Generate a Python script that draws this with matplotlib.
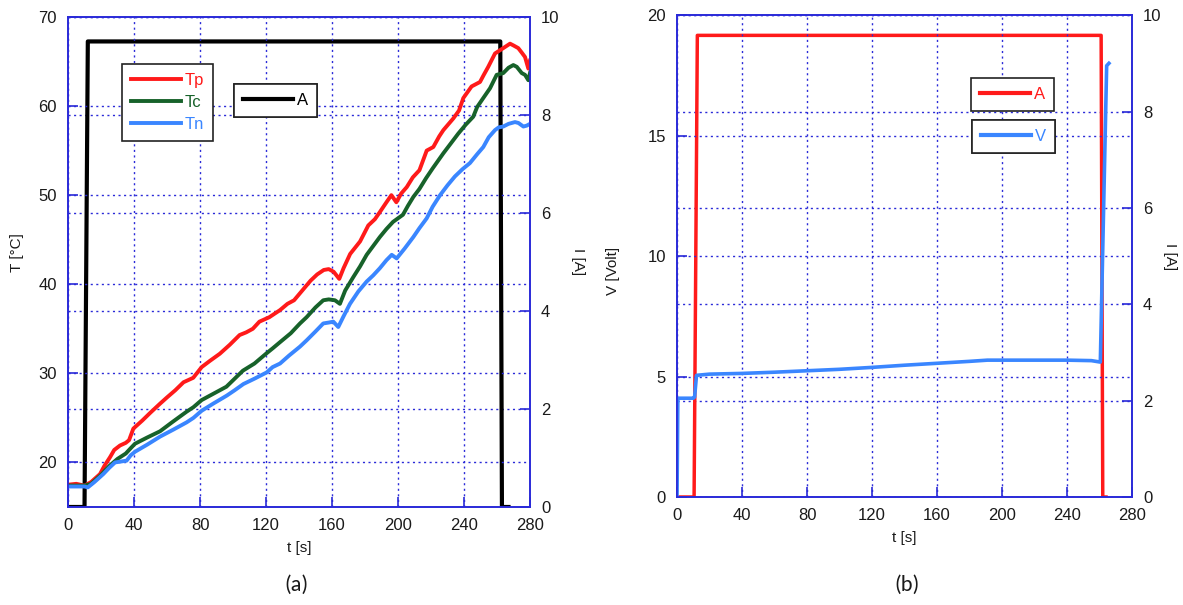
import matplotlib.pyplot as plt
from matplotlib.lines import Line2D

plt.rcParams['font.family'] = ['Liberation Sans', 'DejaVu Sans']

# ---- panel (a): temperatures [°C] and current [A] vs time [s]
tp_t = [0, 5, 10, 14, 19.4, 22, 25.5, 28, 31.5, 35, 37, 39.6, 45, 50, 55.8, 60, 65, 70, 75.9,
        81, 86, 92, 98, 104, 108, 112, 116, 122, 128.5, 133, 137, 142, 147, 151, 155, 158,
        161, 164.4, 167, 171, 177, 182, 186, 189, 193, 196, 199, 202, 205.3, 209, 213, 217.4,
        221.4, 225, 227.5, 233.5, 237, 239.6, 244.6, 249.7, 252, 254.7, 258.8, 263.8, 267.9,
        270, 272.9, 275, 277, 279, 280]
tp_v = [17.5, 17.6, 17.4, 17.8, 18.7, 19.6, 20.6, 21.4, 21.9, 22.2, 22.5, 23.8, 24.7, 25.6, 26.6,
        27.3, 28.1, 29.0, 29.5, 30.7, 31.4, 32.2, 33.2, 34.3, 34.6, 35.0, 35.8, 36.3, 37.1, 37.8,
        38.2, 39.3, 40.4, 41.1, 41.6, 41.7, 41.4, 40.6, 41.8, 43.4, 44.8, 46.6, 47.3, 48.1, 49.2,
        50.0, 49.2, 50.2, 50.9, 52.0, 52.8, 55.0, 55.4, 56.6, 57.3, 58.6, 59.5, 60.9, 62.2, 62.7,
        63.5, 64.4, 65.9, 66.5, 67.0, 66.8, 66.5, 66.0, 65.5, 64.2, 65.1]

tc_t = [0, 10, 14, 20, 25, 30, 35, 38, 40.6, 48, 55.8, 63, 71.9, 76, 81, 88, 96, 101, 106, 113,
        120, 124, 128.5, 135, 140.6, 144.6, 150, 154.7, 158, 161.8, 164.8, 168, 172.9, 177, 181,
        185, 189, 193, 197, 203, 206, 209.3, 213, 217, 221, 227.5, 232, 236.5, 241, 245.6, 248,
        251.7, 255.8, 259.8, 263.8, 267, 269.9, 272, 275, 277, 279, 280]
tc_v = [17.4, 17.4, 17.6, 18.6, 19.6, 20.4, 21.0, 21.6, 22.1, 22.8, 23.5, 24.5, 25.7, 26.2, 27.0,
        27.7, 28.5, 29.4, 30.3, 31.1, 32.2, 32.8, 33.5, 34.5, 35.6, 36.3, 37.4, 38.2, 38.3, 38.2,
        37.8, 39.3, 40.8, 42.0, 43.3, 44.3, 45.3, 46.2, 47.0, 47.8, 48.8, 49.8, 50.7, 51.9, 53.0,
        54.7, 55.8, 56.9, 57.9, 58.8, 59.9, 60.9, 62.0, 63.5, 63.7, 64.3, 64.6, 64.4, 63.7, 63.5,
        62.9, 63.7]

tn_t = [0, 10, 12, 16, 21.4, 25, 28.5, 32, 35.5, 38, 40.6, 48, 55.8, 64, 71.9, 76, 81, 88, 96.2,
        101, 106.3, 113, 120.4, 124, 128.5, 134, 140.6, 144.6, 150, 154.7, 158, 160.8, 163.8,
        167, 170.9, 176, 181, 185, 189, 193, 196.2, 199.2, 204, 209.3, 213, 217.4, 221, 225.5,
        230, 234.5, 239, 243.6, 248, 251.7, 255, 258.8, 261, 263.8, 267, 270.9, 273, 276, 278, 280]
tn_v = [17.3, 17.3, 17.2, 17.8, 18.7, 19.4, 20.0, 20.1, 20.2, 20.8, 21.2, 22.0, 22.9, 23.7, 24.5,
        25.0, 25.8, 26.6, 27.5, 28.1, 28.8, 29.4, 30.1, 30.7, 31.1, 32.0, 33.0, 33.7, 34.7, 35.6,
        35.7, 35.8, 35.2, 36.4, 37.8, 39.2, 40.3, 41.0, 41.8, 42.7, 43.3, 42.9, 44.0, 45.3, 46.3,
        47.4, 48.7, 50.0, 51.1, 52.1, 52.9, 53.6, 54.6, 55.4, 56.5, 57.3, 57.6, 57.7, 58.0, 58.2,
        58.1, 57.7, 57.8, 58.0]

ia_t = [0, 10, 12, 262, 263, 267]
ia_v = [0, 0, 9.5, 9.5, 0, 0]

# ---- panel (b): voltage [V] and current [A] vs time [s]
vb_t = [0, 0.5, 10, 10.8, 12, 20, 40, 60, 80, 100, 120, 140, 160, 180, 191, 200, 220, 240, 255,
        260.5, 264.4, 265.8]
vb_v = [0, 4.1, 4.1, 4.15, 5.05, 5.1, 5.13, 5.18, 5.24, 5.3, 5.38, 5.47, 5.55, 5.63, 5.68, 5.68,
        5.68, 5.68, 5.66, 5.6, 17.9, 18.0]

ib_t = [0, 10.5, 12.5, 261, 262, 264]
ib_v = [0, 0, 9.58, 9.58, 0, 0]

xticks = [0, 40, 80, 120, 160, 200, 240, 280]

RED = '#ff1a1a'
GREEN = '#17622a'
BLUE = '#3a86ff'
AXBLUE = '#2a2ad8'
TXT = '#1a1a1a'


def style_axes(ax, tw, ilabel_x):
    for a in (ax, tw):
        for s in a.spines.values():
            s.set_color(AXBLUE)
            s.set_linewidth(1.2)
        a.tick_params(direction='in', length=7, width=1.2, color=AXBLUE,
                      labelsize=12, labelcolor=TXT)
        a.grid(True, axis='y', color=AXBLUE, linestyle=(0, (1.5, 2.5)), linewidth=1.0)
    ax.grid(True, axis='x', color=AXBLUE, linestyle=(0, (1.5, 2.5)), linewidth=1.0)
    ax.tick_params(axis='x', pad=8)
    tw.tick_params(axis='y', pad=8)
    ax.tick_params(axis='y', pad=8)
    # draw left-axis curves above the right axis' grid
    ax.set_zorder(tw.get_zorder() + 1)
    ax.patch.set_visible(False)
    ax.set_xlim(0, 280)
    ax.set_xticks(xticks)
    tw.set_ylim(0, 10)
    tw.set_yticks([0, 2, 4, 6, 8, 10])
    ax.set_xlabel('t [s]', fontsize=11, color=TXT, labelpad=6)
    tw.set_ylabel('I [A]', fontsize=11, color=TXT, rotation=270, va='center')
    tw.yaxis.set_label_coords(ilabel_x, 0.5)


def box_legend(ax, handles, labels, anchor, fig):
    leg = ax.legend(handles, labels, loc='upper left', bbox_to_anchor=anchor,
                    bbox_transform=fig.transFigure, fancybox=False, framealpha=1,
                    edgecolor='#222222', fontsize=12, handlelength=3.0, handletextpad=0.2,
                    labelspacing=0.4, borderpad=0.55, borderaxespad=0,
                    labelcolor='linecolor')
    leg.get_frame().set_linewidth(1.2)
    ax.add_artist(leg)
    return leg


fig = plt.figure(figsize=(11.83, 6.05), dpi=100)

# panel (a)
ax1 = fig.add_axes([0.0575, 0.162, 0.3905, 0.810])
tw1 = ax1.twinx()
style_axes(ax1, tw1, 1.104)
ax1.set_ylim(15, 70)
ax1.set_yticks([20, 30, 40, 50, 60, 70])
ax1.set_ylabel('T [°C]', fontsize=11, color=TXT, labelpad=4)
ax1.yaxis.set_label_coords(-0.095, 0.52)

la, = tw1.plot(ia_t, ia_v, color='black', lw=3)
lp, = ax1.plot(tp_t, tp_v, color=RED, lw=2.8)
lc, = ax1.plot(tc_t, tc_v, color=GREEN, lw=2.8)
ln, = ax1.plot(tn_t, tn_v, color=BLUE, lw=2.8)

box_legend(ax1, [lp, lc, ln], ['Tp', 'Tc', 'Tn'], (0.1031, 0.894), fig)
box_legend(ax1, [Line2D([], [], color='black', lw=3)], ['A'], (0.1978, 0.861), fig)

# panel (b)
ax2 = fig.add_axes([0.5723, 0.1785, 0.3846, 0.7965])
tw2 = ax2.twinx()
style_axes(ax2, tw2, 1.083)
ax2.set_ylim(0, 20)
ax2.set_yticks([0, 5, 10, 15, 20])
ax2.set_ylabel('V [Volt]', fontsize=11, color=TXT, labelpad=4)
ax2.yaxis.set_label_coords(-0.125, 0.47)

lb, = tw2.plot(ib_t, ib_v, color=RED, lw=2.5)
lv, = ax2.plot(vb_t, vb_v, color=BLUE, lw=2.6)

box_legend(ax2, [Line2D([], [], color=RED, lw=3)], ['A'], (0.8208, 0.871), fig)
box_legend(ax2, [Line2D([], [], color=BLUE, lw=3)], ['V'], (0.8217, 0.8017), fig)

fig.text(0.251, 0.033, '(a)', fontsize=16, color=TXT, ha='center', va='center',
         family=['Carlito', 'Open Sans', 'DejaVu Sans'])
fig.text(0.767, 0.033, '(b)', fontsize=16, color=TXT, ha='center', va='center',
         family=['Carlito', 'Open Sans', 'DejaVu Sans'])

fig.savefig('out.png', dpi=100)
